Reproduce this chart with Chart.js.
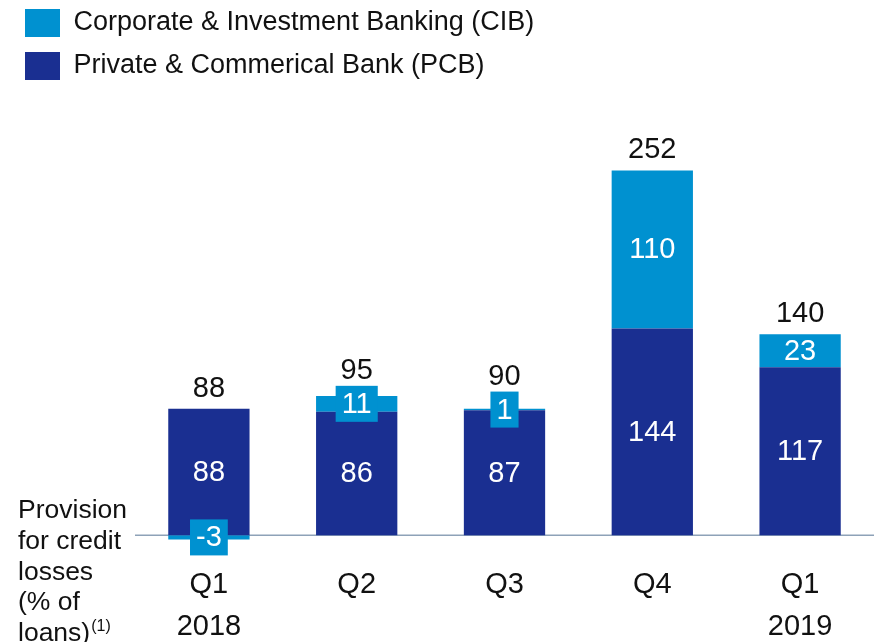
<!DOCTYPE html>
<html>
<head>
<meta charset="utf-8">
<script src="https://cdn.jsdelivr.net/npm/chart.js@4/dist/chart.umd.min.js"></script>
<style>
  html, body { margin: 0; padding: 0; background: #fff; }
  #wrap { width: 874px; height: 642px; }
</style>
</head>
<body>
<div id="wrap"><canvas id="chart" width="874" height="642"></canvas></div>
<script>
const categories = [['Q1', '2018'], ['Q2'], ['Q3'], ['Q4'], ['Q1', '2019']];
const pcbValues = [88, 86, 87, 144, 117];
const cibValues = [-3, 11, 1, 110, 23];
const totals = [88, 95, 90, 252, 140];
const sideLabel = ['Provision', 'for credit', 'losses', '(% of', 'loans)'];

const CIB_COLOR = '#0091d0';
const PCB_COLOR = '#1a2f91';
const FONT = '"Liberation Sans", Arial, sans-serif';

Chart.defaults.font.family = FONT;
Chart.defaults.color = '#111';

// zero line + side caption, drawn behind the bars
const baseline = {
    id: 'baseline',
    beforeDatasetsDraw(chart) {
        const {ctx, chartArea} = chart;
        const y0 = chart.scales.y.getPixelForValue(0);
        ctx.save();
        ctx.strokeStyle = '#8ea2b8';
        ctx.lineWidth = 1.5;
        ctx.beginPath();
        ctx.moveTo(chartArea.left, y0);
        ctx.lineTo(chartArea.right, y0);
        ctx.stroke();

        ctx.fillStyle = '#111';
        ctx.font = '26.5px ' + FONT;
        ctx.textAlign = 'left';
        ctx.textBaseline = 'alphabetic';
        sideLabel.forEach((line, i) => {
            ctx.fillText(line, 18, y0 - 17 + i * 30.7);
        });
        const last = sideLabel[sideLabel.length - 1];
        const w = ctx.measureText(last).width;
        ctx.font = '16px ' + FONT;
        ctx.fillText('(1)', 18 + w + 1, y0 - 17 + (sideLabel.length - 1) * 30.7 - 10);
        ctx.restore();
    }
};

// values inside the segments, small CIB values in a box, totals on top
const barLabels = {
    id: 'barLabels',
    afterDatasetsDraw(chart) {
        const {ctx} = chart;
        const pcb = chart.getDatasetMeta(0).data;
        const cib = chart.getDatasetMeta(1).data;
        ctx.save();
        ctx.font = '29px ' + FONT;
        ctx.textAlign = 'center';
        categories.forEach((c, i) => {
            let barTop = Math.min(pcb[i].y, pcb[i].base, cib[i].y, cib[i].base);
            let boxTop = Infinity;
            [[pcb[i], pcbValues[i]], [cib[i], cibValues[i]]].forEach(([bar, v]) => {
                const cy = (bar.y + bar.base) / 2;
                const txt = String(v);
                if (Math.abs(bar.base - bar.y) < 30) {
                    const w = ctx.measureText(txt).width + 12;
                    ctx.fillStyle = CIB_COLOR;
                    ctx.fillRect(bar.x - w / 2, cy - 18, w, 36);
                    boxTop = Math.min(boxTop, cy - 18);
                }
                ctx.fillStyle = '#fff';
                ctx.textBaseline = 'middle';
                ctx.fillText(txt, bar.x, cy + 1);
            });
            ctx.fillStyle = '#111';
            ctx.textBaseline = 'alphabetic';
            const ty = Math.min(barTop - 12, boxTop - 7);
            ctx.fillText(String(totals[i]), pcb[i].x, ty);
        });
        ctx.restore();
    }
};

new Chart(document.getElementById('chart').getContext('2d'), {
    type: 'bar',
    data: {
        labels: categories,
        datasets: [{
            label: 'Private & Commerical Bank (PCB)',
            data: pcbValues,
            backgroundColor: PCB_COLOR,
            borderWidth: 0,
            barPercentage: 0.55,
            categoryPercentage: 1,
        }, {
            label: 'Corporate & Investment Banking (CIB)',
            data: cibValues,
            backgroundColor: CIB_COLOR,
            borderWidth: 0,
            barPercentage: 0.55,
            categoryPercentage: 1,
        }]
    },
    options: {
        responsive: false,
        animation: false,
        layout: {
            padding: { top: -6, right: -4, left: 10, bottom: 0 },
        },
        plugins: {
            legend: {
                reverse: true,
                align: 'start',
                labels: {
                    boxWidth: 35,
                    boxHeight: 28,
                    padding: 15,
                    color: '#111',
                    font: { size: 27 },
                },
            },
            tooltip: { enabled: false },
        },
        scales: {
            x: {
                stacked: true,
                grid: { display: false, drawTicks: false },
                border: { display: false },
                ticks: {
                    padding: 23,
                    autoSkip: false,
                    maxRotation: 0,
                    color: '#111',
                    font: { size: 29, lineHeight: 1.45 },
                },
                afterFit: (scale) => { scale.height = 101; },
            },
            y: {
                stacked: true,
                min: -4,
                max: 310,
                grid: { display: false, drawTicks: false },
                border: { display: false },
                ticks: { display: false },
                afterFit: (scale) => { scale.width = 125; },
            },
        },
    },
    plugins: [baseline, barLabels],
});
</script>
</body>
</html>
